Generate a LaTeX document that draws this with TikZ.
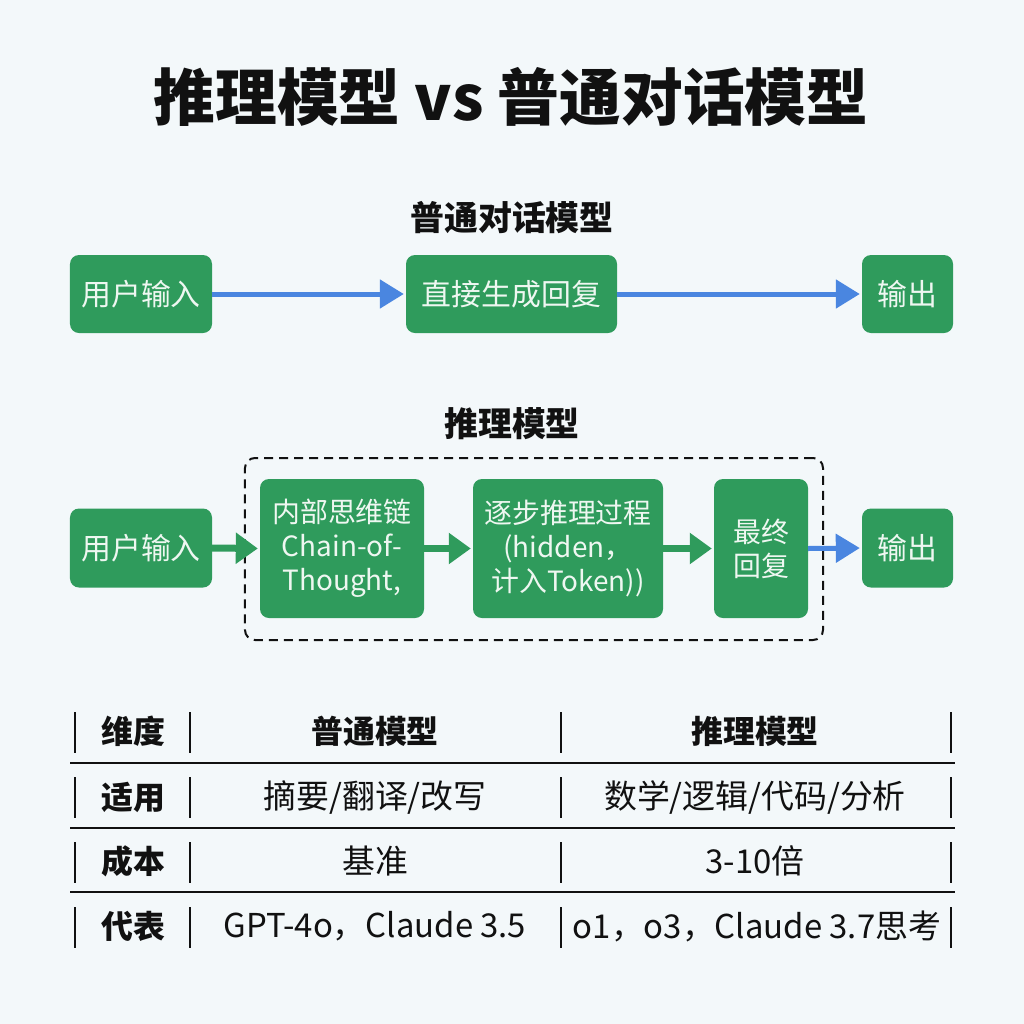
\documentclass[tikz,border=0pt]{standalone}
\usepackage{fontspec}
\setmainfont{Noto Sans CJK SC}
\usetikzlibrary{arrows.meta}
\definecolor{bg}{HTML}{F3F8FA}
\definecolor{gbox}{HTML}{2F9B5C}
\definecolor{gtxt}{HTML}{EEF7F1}
\definecolor{barrow}{HTML}{4A86E0}
\definecolor{ink}{HTML}{111111}
\tikzset{
  gnode/.style={fill=gbox, rounded corners=9bp, text=gtxt, font=\fontsize{30}{34}\selectfont, align=center, inner sep=0pt},
  gmulti/.style={gnode, font=\fontsize{28}{34}\selectfont},
  barr/.style={draw=barrow, line width=5bp, -{Triangle[length=24bp,width=28bp]}, shorten >=2bp},
  garr/.style={draw=gbox, line width=7bp, -{Triangle[length=22bp,width=30bp]}, shorten >=2bp},
  tline/.style={draw=ink, line width=1.6bp},
  hdr/.style={font=\fontsize{32}{38}\selectfont\bfseries, text=ink},
  cell/.style={font=\fontsize{33}{38}\selectfont, text=ink}
}
\begin{document}
\begin{tikzpicture}[x=1bp,y=-1bp]
\fill[bg] (0,0) rectangle (1024,1024);
\useasboundingbox (0,0) rectangle (1024,1024);
% title
\node[font=\fontsize{62}{72}\selectfont\bfseries, text=ink] (title) at (511,97) {推理模型 vs 普通对话模型};
% section 1
\node[font=\fontsize{34}{40}\selectfont\bfseries, text=ink] (sub1) at (512,218) {普通对话模型};
\node[gnode, minimum width=142bp, minimum height=78bp] (in1) at (141,294) {用户输入};
\node[gnode, minimum width=211bp, minimum height=78bp] (gen) at (511.5,294) {直接生成回复};
\node[gnode, minimum width=91bp, minimum height=78bp] (out1) at (907.5,294) {输出};
\draw[barr] (in1.east) -- (gen.west);
\draw[barr] (gen.east) -- (out1.west);
% section 2
\node[font=\fontsize{34}{40}\selectfont\bfseries, text=ink] (sub2) at (512,424) {推理模型};
\node[draw=ink, dashed, dash pattern=on 9bp off 6bp, line width=2bp, rounded corners=10bp, minimum width=578bp, minimum height=182bp] (frame) at (534,549) {};
\node[gnode, minimum width=142bp, minimum height=79bp] (in2) at (141,548) {用户输入};
\node[gmulti, minimum width=164bp, minimum height=139bp] (cot) at (342,548.5) {内部思维链\\Chain-of-\\Thought,};
\node[gmulti, minimum width=190bp, minimum height=139bp] (step) at (568,548.5) {逐步推理过程\\(hidden，\\计入Token))};
\node[gmulti, minimum width=94bp, minimum height=139bp] (fin) at (761,548.5) {最终\\回复};
\node[gnode, minimum width=91bp, minimum height=79bp] (out2) at (907.5,548) {输出};
\draw[garr] (in2.east) -- (cot.west);
\draw[garr] (cot.east) -- (step.west);
\draw[garr] (step.east) -- (fin.west);
\draw[barr] (fin.east) -- (out2.west);
% table
\foreach \y in {763,828,892} \draw[tline] (70,\y) -- (955,\y);
\foreach \a/\b in {712/753,777/818,842/883,907/948} {
  \foreach \x in {75,190,561,951} \draw[tline] (\x,\a) -- (\x,\b);
}
\node[hdr] (h1) at (133,731) {维度};
\node[hdr] (h2) at (375,731) {普通模型};
\node[hdr] (h3) at (755,731) {推理模型};
\node[hdr] (r1) at (133,797) {适用};
\node[cell] (r1a) at (375,797) {摘要/翻译/改写};
\node[cell] (r1b) at (755,797) {数学/逻辑/代码/分析};
\node[hdr] (r2) at (133,861) {成本};
\node[cell] (r2a) at (375,861) {基准};
\node[cell] (r2b) at (755,861) {3-10倍};
\node[hdr] (r3) at (133,926) {代表};
\node[cell] (r3a) at (375,926) {GPT-4o，Claude 3.5};
\node[cell] (r3b) at (757,926) {o1，o3，Claude 3.7思考};
\end{tikzpicture}
\end{document}
